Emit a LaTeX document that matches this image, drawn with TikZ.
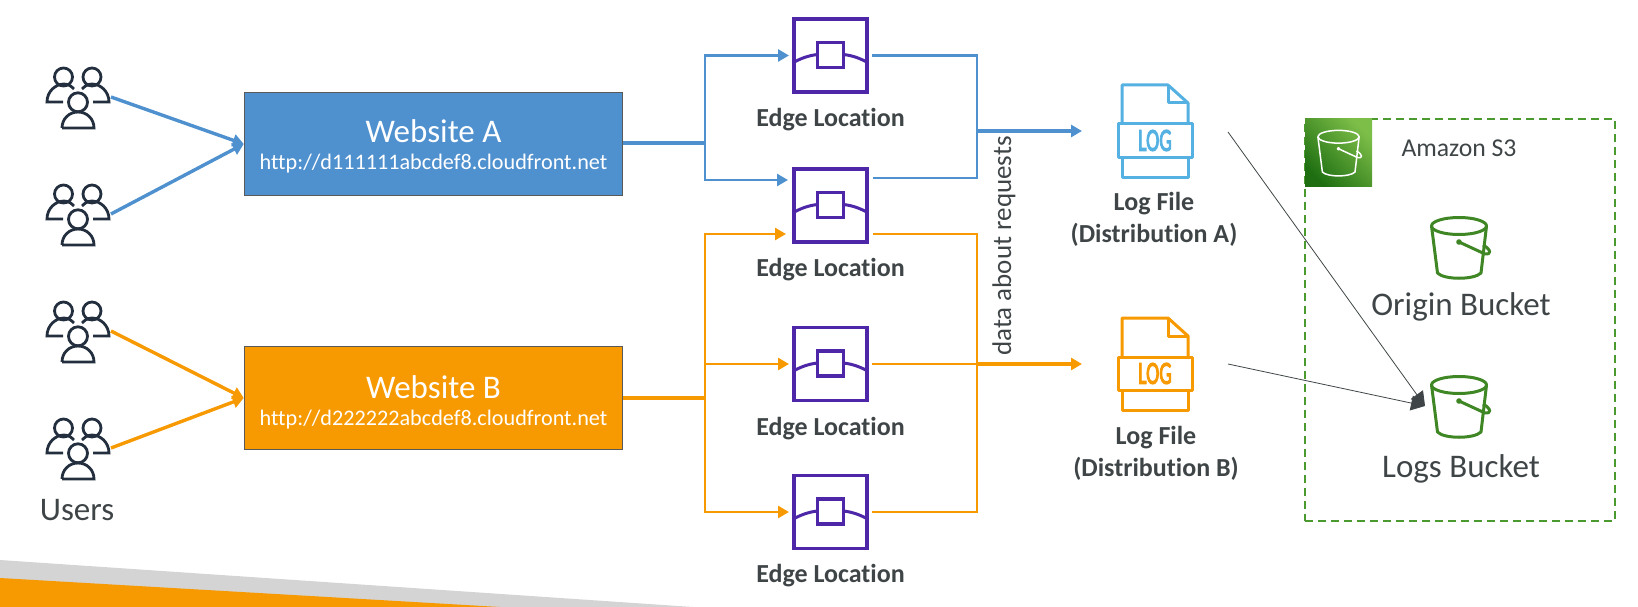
\documentclass[tikz,border=0pt]{standalone}
\usepackage{fontspec}
\setmainfont[Ligatures=NoCommon]{Carlito}
\newfontfamily\logfont[FakeBold=4]{Carlito}
\usetikzlibrary{arrows.meta,positioning}
\definecolor{siteblue}{HTML}{4F90CE}
\definecolor{siteorange}{HTML}{F79900}
\definecolor{edgepurple}{HTML}{4D27A8}
\definecolor{logblue}{HTML}{56B1E3}
\definecolor{bucketgreen}{HTML}{3F8624}
\definecolor{dashgreen}{HTML}{4A9A30}
\definecolor{s3dark}{HTML}{1F6F12}
\definecolor{s3light}{HTML}{7DBE48}
\definecolor{inkgray}{HTML}{3F4547}
\definecolor{usernavy}{HTML}{232F3E}
\tikzset{
      sitebox/.style={
        draw=black!65,
        line width=1.5pt,
        minimum width=378pt,
        minimum height=103pt,
        inner sep=0pt
      },
      sitetitle/.style={font=\fontsize{33}{38}\selectfont,text=white},
      siteurl/.style={font=\fontsize{22.2}{26}\selectfont,text=white},
      usernode/.style={minimum size=62pt,inner sep=0pt,outer sep=2pt},
      edgebox/.style={draw=edgepurple,line width=3.4pt,minimum size=73pt,inner sep=0pt,outer sep=5pt},
      lognode/.style={minimum width=74pt,minimum height=92pt,inner sep=0pt,outer sep=36pt},
      bucketnode/.style={minimum width=60pt,minimum height=62pt,inner sep=0pt,outer sep=4pt},
      boldlabel/.style={font=\fontsize{26}{32}\selectfont\bfseries,text=inkgray,align=center},
      plainlabel/.style={font=\fontsize{33}{38}\selectfont,text=inkgray},
      bluethin/.style={draw=siteblue,line width=2.6pt},
      bluethick/.style={draw=siteblue,line width=3.4pt},
      orangethin/.style={draw=siteorange,line width=2.6pt},
      orangethick/.style={draw=siteorange,line width=3.4pt},
      tip/.style={-{Triangle[length=11pt,width=12pt]}},
      thinarrow/.style={draw=inkgray,line width=0.8pt,-{Triangle[length=14pt,width=15pt]}},
      users/.pic={
        \begin{scope}[usernavy,line width=2.8pt]
        \draw (-14.5,-20) circle (9);
        \draw (14,-20) circle (9);
        \draw (0,5.3) circle (9.5);
        \draw (-16,31) -- (16,31) .. controls (16,22) and (9,15) .. (0,15) .. controls (-9,15) and (-16,22) .. (-16,31);
        \draw (-15,5) -- (-31,5) .. controls (-31,-6) and (-22,-13) .. (-14,-13) .. controls (-9,-13) and (-6,-10) .. (-4,-8);
        \draw (15,5) -- (31,5) .. controls (31,-6) and (22,-13) .. (14,-13) .. controls (9,-13) and (6,-10) .. (4,-8);
        \end{scope}
      },
      edgeicon/.pic={
        \draw[edgepurple,line width=3.4pt] (-13,-13) rectangle (13,12);
        \draw[edgepurple,line width=3pt] (-37,7) .. controls (-30,3) and (-22,0) .. (-13,-1);
        \draw[edgepurple,line width=3pt] (37,7) .. controls (30,3) and (22,0) .. (13,-1);
      },
      pics/logicon/.style={code={
        \begin{scope}[draw=#1,line width=3pt,line join=round]
        \draw (-33,-7) -- (-33,-46) -- (13,-46) -- (33,-28) -- (33,-7);
        \draw (13,-46) -- (13,-28) -- (33,-28);
        \draw (-33,26) -- (-33,46) -- (33,46) -- (33,26);
        \draw (-37,-7) rectangle (37,26);
        \end{scope}
        \node[text=#1,inner sep=0pt,xscale=0.62,font=\fontsize{32}{32}\logfont] at (0,9.5) {LOG};
      }},
      bucketicon/.pic={
        \draw[pic actions,line join=round] (0,-21) ellipse (27.5 and 8.5);
        \draw[pic actions,line join=round] (-27.5,-21) -- (-21.5,26) .. controls (-15,33) and (15,33) .. (22,26) -- (27.5,-21);
        \draw[pic actions,line join=round] (0,-5) circle (1.5);
        \draw[pic actions,line join=round] (0,-5) -- (26,7) .. controls (32,8) and (33,3) .. (24,-2);
      }
    }

\begin{document}
\begin{tikzpicture}[x=1pt,y=-1pt]
    \useasboundingbox (0,0) rectangle (1638,607);
    % wedge
    \fill[black!17] (0,560) -- (693,607) -- (0,607) -- cycle;
    \fill[siteorange] (0,578) -- (500,607) -- (0,607) -- cycle;

    % users
    \node[usernode] (u1) at (78,97) {};
    \node[usernode] (u2) at (78,214) {};
    \node[usernode] (u3) at (78,331) {};
    \node[usernode] (u4) at (78,448) {};
    \pic at (u1) {users};
    \pic at (u2) {users};
    \pic at (u3) {users};
    \pic at (u4) {users};
    \node[plainlabel] (userstext) at (77,510) {Users};

    % websites
    \node[sitebox,fill=siteblue] (wa) at (433.5,144) {};
    \node[sitebox,fill=siteorange] (wb) at (433.5,398) {};
    \node[sitetitle] (watext) at (433.5,131) {Website A};
    \node[siteurl] (waurl) at (433.5,164) {http://d111111abcdef8.cloudfront.net};
    \node[sitetitle] (wbtext) at (433.5,387) {Website B};
    \node[siteurl] (wburl) at (433.5,420) {http://d222222abcdef8.cloudfront.net};

    % edge locations
    \node[edgebox] (e1) at (830.5,55.5) {};
    \node[edgebox] (e2) at (830.5,205.5) {};
    \node[edgebox] (e3) at (830.5,364) {};
    \node[edgebox] (e4) at (830.5,512) {};
    \pic at (e1) {edgeicon};
    \pic at (e2) {edgeicon};
    \pic at (e3) {edgeicon};
    \pic at (e4) {edgeicon};
    \node[boldlabel] (e1text) at (830.5,120) {Edge Location};
    \node[boldlabel] (e2text) at (830.5,270) {Edge Location};
    \node[boldlabel] (e3text) at (830.5,428.5) {Edge Location};
    \node[boldlabel] (e4text) at (830.5,576) {Edge Location};

    % log files
    \node[lognode] (la) at (1155,131) {};
    \node[lognode] (lb) at (1155,364) {};
    \pic at (la) {logicon=logblue};
    \pic at (lb) {logicon=siteorange};
    \node[boldlabel] (latext) at (1154,219) {Log File\\(Distribution A)};
    \node[boldlabel] (lbtext) at (1156,453.5) {Log File\\(Distribution B)};

    % s3
    \node[draw=dashgreen,line width=2pt,dash pattern=on 8pt off 5pt,minimum width=310pt,minimum height=402pt,inner sep=0pt] (s3box) at (1460,320) {};
    \node[minimum size=67pt,inner sep=0pt,bottom color=s3dark,top color=s3light,shading angle=-45] (s3icon) at (1338.5,152.5) {};
    \pic[draw=white,line width=1.5pt,scale=0.75] at (s3icon) {bucketicon};
    \node[font=\fontsize{25.7}{30}\selectfont,text=inkgray] (s3text) at (1459,148) {Amazon S3};
    \node[bucketnode] (bo) at (1459,247) {};
    \node[bucketnode] (bl) at (1459,406) {};
    \pic[draw=bucketgreen,line width=3pt] at (bo) {bucketicon};
    \pic[draw=bucketgreen,line width=3pt] at (bl) {bucketicon};
    \node[plainlabel] (botext) at (1461,307) {Origin Bucket};
    \node[plainlabel] (bltext) at (1461,469) {Logs Bucket};

    % joints
    \coordinate (ja) at (705,143);
    \coordinate (jb) at (705,398);
    \coordinate (ka) at (977,131);
    \coordinate (kb) at (977,364);
    \coordinate (e2ina) at (788,180);
    \coordinate (e2inb) at (786,234);
    \coordinate (e2outa) at (873,178);
    \coordinate (e2outb) at (873,234);
    \coordinate (la0) at (1228,132);
    \coordinate (lb0) at (1228,364);

    % blue
    \draw[tip,bluethick] (u1.east) -- (wa.west);
    \draw[tip,bluethick] (u2.east) -- (wa.west);
    \draw[bluethick] (wa.east |- ja) -- (ja);
    \draw[tip,bluethin] (ja) |- (e1.west);
    \draw[tip,bluethin] (ja) |- (e2ina);
    \draw[bluethin] (e1.east) -| (ka);
    \draw[bluethin] (e2outa) -| (ka);
    \draw[tip,bluethick] (ka) -- (la.west);

    % orange
    \draw[tip,orangethick] (u3.east) -- (wb.west);
    \draw[tip,orangethick] (u4.east) -- (wb.west);
    \draw[orangethick] (wb.east) -- (jb);
    \draw[tip,orangethin] (jb) |- (e2inb);
    \draw[tip,orangethin] (jb) |- (e3.west);
    \draw[tip,orangethin] (jb) |- (e4.west);
    \draw[orangethin] (e2outb) -| (kb);
    \draw[orangethin] (e4.east) -| (kb);
    \draw[orangethin] (e3.east) -- (kb);
    \draw[tip,orangethick] (kb) -- (lb.west);

    % to bucket
    \draw[thinarrow] (la0) -- (bl.west);
    \draw[thinarrow] (lb0) -- (bl.west);

    \node[rotate=90,font=\fontsize{27}{30}\selectfont,text=inkgray] (reqtext) at (1004,246) {data about requests};
    \end{tikzpicture}
\end{document}
